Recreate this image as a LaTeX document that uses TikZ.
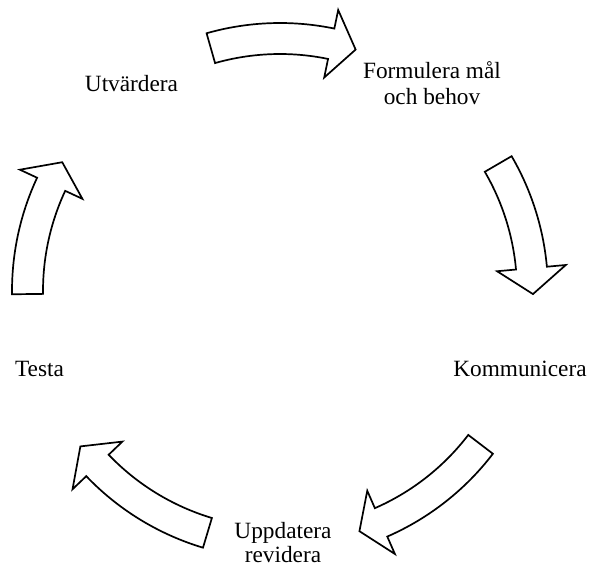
\documentclass[tikz,border=0pt]{standalone}
\usepackage{fontspec}
\setmainfont{Liberation Serif}

% one block arrow of the cycle: tail angle, neck angle, tip angle
\newcommand{\cyclearrow}[3]{%
  \draw[blockarr] (#1:268) arc[start angle=#1, end angle=#2, radius=268]
    -- (#2:287) -- (#3:253) -- (#2:218) -- (#2:237)
    arc[start angle=#2, end angle=#1, radius=237] -- cycle;}

\begin{document}
\begin{tikzpicture}[
  x=0.5pt, y=0.5pt,
  lbl/.style={inner sep=0pt, font=\fontsize{11.65}{13.4}\selectfont},
  blockarr/.style={draw=black, fill=white, line width=0.85pt, line join=miter}
]
\useasboundingbox (0,0) rectangle (595,568);

\begin{scope}[shift={(280,277)}]
\cyclearrow{105.9}{78.3}{72.6}
\cyclearrow{30.2}{5.2}{-0.7}
\cyclearrow{-37.4}{-66.4}{-71.7}
\cyclearrow{-106.7}{-136.3}{-142.1}
\cyclearrow{180.7}{155}{149.4}
\end{scope}

\node[lbl, anchor=base] (utv) at (131.5,476) {Utvärdera};
\node[lbl, anchor=base, align=center] (form) at (432,463) {Formulera mål\\och behov};
\node[lbl, anchor=base] (komm) at (520,191) {Kommunicera};
\node[lbl, anchor=base, align=center, font=\fontsize{11.65}{12}\selectfont] (uppd) at (283,5) {Uppdatera\\revidera};
\node[lbl, anchor=base] (testa) at (39.5,191) {Testa};
\end{tikzpicture}
\end{document}
